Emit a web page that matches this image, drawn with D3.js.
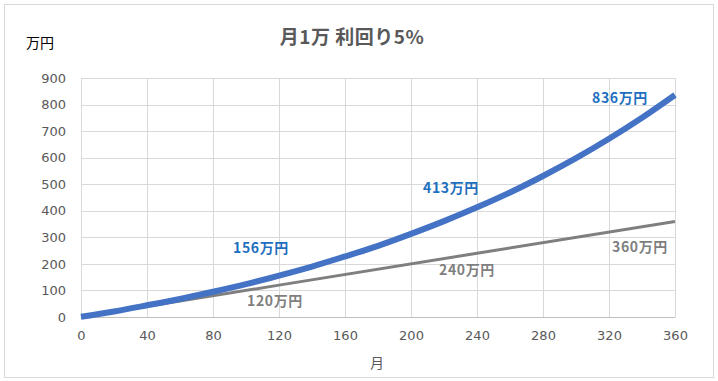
<!DOCTYPE html>
<meta charset="utf-8">
<style>
  body { margin: 0; background: #fff; }
  text { font-family: "Noto Sans CJK JP", "Noto Sans", sans-serif; }
  .tick text { font-family: "DejaVu Sans", "Noto Sans", sans-serif; font-size: 13px; fill: #595959; }
</style>
<script src="https://d3js.org/d3.v7.min.js"></script>
<div id="my_dataviz"></div>
<script>

// months (x) and values in 万円
var months      = [0, 20, 40, 60, 80, 100, 120, 140, 160, 180, 200, 220, 240, 260, 280, 300, 320, 340, 360];
var compounded  = [1, 21, 44, 68, 95, 124, 156, 190, 228, 268, 313, 361, 413, 469, 531, 598, 671, 750, 836];
var principalX  = [0, 120, 240, 360];
var principal   = [0, 120, 240, 360];
var xTicks      = [0, 40, 80, 120, 160, 200, 240, 280, 320, 360];
var yTicks      = [0, 100, 200, 300, 400, 500, 600, 700, 800, 900];
var blueLabels  = [120, 240, 360];
var grayLabels  = [120, 240, 360];

var W = 718, H = 381;
var margin = {top: 78, right: 43, bottom: 64, left: 81},
    width = 675 - margin.left,
    height = 317 - margin.top;

var root = d3.select("#my_dataviz")
  .append("svg")
    .attr("width", W)
    .attr("height", H);

// chart border
root.append("rect")
  .attr("x", 4.5).attr("y", 4.5)
  .attr("width", 709).attr("height", 373)
  .attr("fill", "#fff")
  .attr("stroke", "#d9d9d9");

var svg = root.append("g")
  .attr("transform", "translate(" + margin.left + "," + margin.top + ")");

var x = d3.scaleLinear().domain([0, 360]).range([0, width]);
var y = d3.scaleLinear().domain([0, 900]).range([height, 0]);

// gridlines
svg.append("g")
  .selectAll("line.h")
  .data(yTicks)
  .enter().append("line")
    .attr("x1", 0).attr("x2", width)
    .attr("y1", function(d) { return Math.round(y(d)) + 0.5; })
    .attr("y2", function(d) { return Math.round(y(d)) + 0.5; })
    .attr("stroke", "#d9d9d9");
svg.append("g")
  .selectAll("line.v")
  .data(xTicks)
  .enter().append("line")
    .attr("y1", 0).attr("y2", height)
    .attr("x1", function(d) { return Math.round(x(d)) + 0.5; })
    .attr("x2", function(d) { return Math.round(x(d)) + 0.5; })
    .attr("stroke", "#d9d9d9");

// axes
var xAxis = svg.append("g")
  .attr("transform", "translate(0," + height + ")")
  .call(d3.axisBottom(x).tickValues(xTicks).tickSize(0).tickPadding(14));
xAxis.select(".domain").attr("stroke", "#bfbfbf");

var yAxis = svg.append("g")
  .call(d3.axisLeft(y).tickValues(yTicks).tickSize(0).tickPadding(15));
yAxis.select(".domain").remove();

// lines
var lineBlue = d3.line()
  .x(function(d, i) { return x(months[i]); })
  .y(function(d) { return y(d); })
  .curve(d3.curveMonotoneX);

var lineGray = d3.line()
  .x(function(d, i) { return x(principalX[i]); })
  .y(function(d) { return y(d); });

svg.append("path")
  .datum(principal)
  .attr("fill", "none")
  .attr("stroke", "#7f7f7f")
  .attr("stroke-width", 3)
  .attr("d", lineGray);

svg.append("path")
  .datum(compounded)
  .attr("fill", "none")
  .attr("stroke", "#4472c4")
  .attr("stroke-width", 6)
  .attr("d", lineBlue);

// data labels
var blueOff = {120: [-18, -23], 240: [-26, -14], 360: [-55, 8]};
svg.selectAll("text.blue")
  .data(blueLabels)
  .enter().append("text")
    .attr("x", function(d) { return x(d) + blueOff[d][0]; })
    .attr("y", function(d) { return y(compounded[months.indexOf(d)]) + blueOff[d][1]; })
    .attr("text-anchor", "middle")
    .attr("fill", "#1f6fc0")
    .style("font-weight", "bold")
    .style("font-size", "14px")
    .style("letter-spacing", "0.6px")
    .text(function(d) { return compounded[months.indexOf(d)] + "万円"; });

var grayOff = {120: [-4, 21], 240: [-10, 22], 360: [-35, 31]};
svg.selectAll("text.gray")
  .data(grayLabels)
  .enter().append("text")
    .attr("x", function(d) { return x(d) + grayOff[d][0]; })
    .attr("y", function(d) { return y(principal[principalX.indexOf(d)]) + grayOff[d][1]; })
    .attr("text-anchor", "middle")
    .attr("fill", "#7f7f7f")
    .style("font-weight", "bold")
    .style("font-size", "14px")
    .style("letter-spacing", "0.6px")
    .text(function(d) { return principal[principalX.indexOf(d)] + "万円"; });

// title and axis titles
root.append("text")
  .attr("x", 352).attr("y", 44)
  .attr("text-anchor", "middle")
  .attr("fill", "#595959")
  .style("font-weight", "bold")
  .style("font-size", "19px")
  .style("letter-spacing", "0.5px")
  .text("月1万 利回り5%");

root.append("text")
  .attr("x", 26).attr("y", 48)
  .attr("fill", "#000")
  .style("font-size", "14px")
  .text("万円");

root.append("text")
  .attr("x", 370).attr("y", 368)
  .attr("fill", "#595959")
  .style("font-size", "14px")
  .text("月");

</script>
